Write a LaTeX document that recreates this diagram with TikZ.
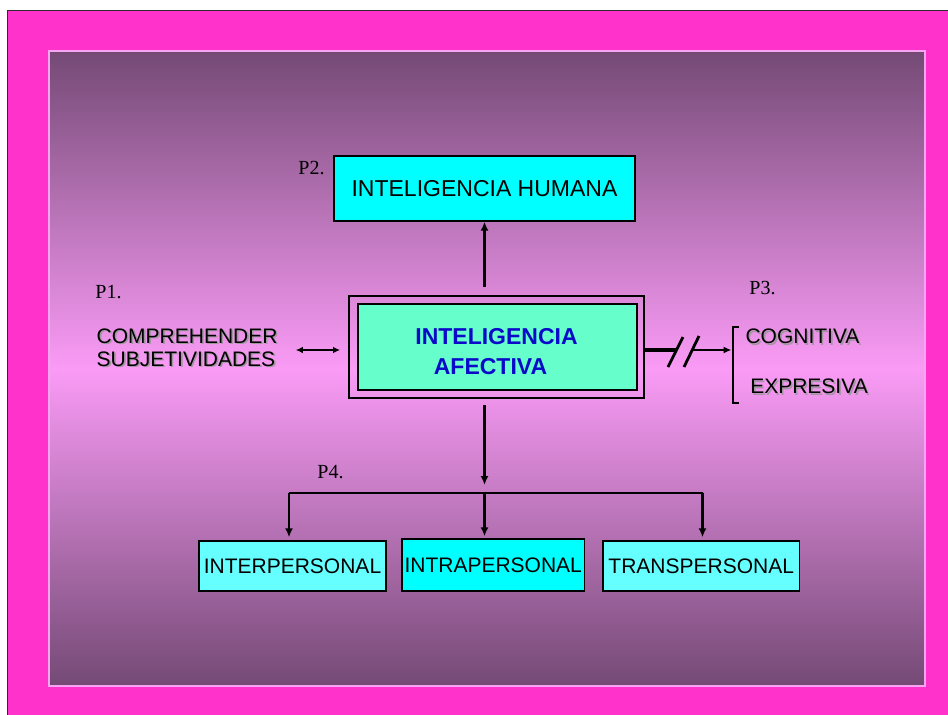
\documentclass[tikz,border=0pt]{standalone}
\usepackage{fontspec}
\setmainfont{Liberation Serif}
\newfontfamily\arialf{Liberation Sans}
\usetikzlibrary{arrows.meta}
\definecolor{outerpink}{RGB}{255,51,204}
\definecolor{darkedge}{RGB}{50,40,50}
\definecolor{bgtop}{RGB}{116,74,117}
\definecolor{bgmid}{RGB}{250,155,246}
\definecolor{innerborder}{RGB}{245,165,242}
\definecolor{cyanfull}{RGB}{0,255,255}
\definecolor{cyanlight}{RGB}{102,255,255}
\definecolor{aquabox}{RGB}{102,255,204}
\definecolor{bluetxt}{RGB}{10,10,200}
\definecolor{shadowgray}{RGB}{160,150,160}
\newcommand{\shtext}[1]{\makebox[0pt][l]{\hspace{1.6pt}\raisebox{-1.6pt}{\textcolor{shadowgray}{#1}}}#1}
\begin{document}
\begin{tikzpicture}[x=1pt,y=-1pt,
  boxtxt/.style={font=\arialf\fontsize{21}{23}\selectfont},
  plabel/.style={font=\fontsize{20}{22}\selectfont, inner sep=0pt},
  cbox/.style={draw=black, line width=1.4pt, inner sep=0pt, boxtxt},
  arr/.style={line width=2.3pt, -{Latex[length=9pt,width=8pt]}},
  dblarr/.style={line width=1.6pt, {Latex[length=7pt,width=6.5pt]}-{Latex[length=7pt,width=6.5pt]}},
  thinarr/.style={line width=1.6pt, -{Latex[length=8pt,width=7pt]}}
]
\useasboundingbox (0,0) rectangle (948,715);
\fill[white] (0,0) rectangle (948,715);
\fill[outerpink] (7,10) rectangle (948,715);
\draw[darkedge, line width=1pt] (7,715) -- (7,10) -- (948,10);
\shade[top color=bgtop, bottom color=bgtop, middle color=bgmid] (49,51) rectangle (925,686);
\draw[innerborder, line width=1.5pt] (49,51) rectangle (925,686);

% labels
\node[plabel] (p1) at (108.5,292) {P1.};
\node[plabel] (p2) at (311.5,168) {P2.};
\node[plabel] (p3) at (762.5,288) {P3.};
\node[plabel] (p4) at (330.5,472) {P4.};

% top box
\node[cbox, fill=cyanfull, minimum width=301pt, minimum height=65pt,
      font=\arialf\fontsize{23}{26}\selectfont] (human) at (484.5,188.5) {INTELIGENCIA HUMANA};

% central box
\node[draw=black, line width=1.6pt, minimum width=295pt, minimum height=102pt, inner sep=0pt] (afo) at (496.5,347) {};
\node[draw=black, line width=2.3pt, fill=aquabox, minimum width=279pt, minimum height=86pt, inner sep=0pt] (afi) at (497.5,347) {};
\node[inner sep=0pt, align=center, text=bluetxt, font=\arialf\bfseries\fontsize{23}{30}\selectfont] (aft) at (496.5,352) {INTELIGENCIA\\AFECTIVA\hspace*{12pt}};

% left text
\node[boxtxt, anchor=west, align=left, inner sep=0pt] (comp) at (96.5,348.2) {\shtext{COMPREHENDER}\\\shtext{SUBJETIVIDADES}};

% right texts
\node[boxtxt, inner sep=0pt] (cogn) at (802.5,337) {\shtext{COGNITIVA}};
\node[boxtxt, inner sep=0pt] (expr) at (809,387) {\shtext{EXPRESIVA}};

% bottom boxes
\node[cbox, fill=cyanlight, minimum width=187pt, minimum height=50pt] (inter) at (292.5,566) {INTERPERSONAL};
\node[cbox, fill=cyanfull, minimum width=182.5pt, minimum height=52pt] (intra) at (493.2,565) {INTRAPERSONAL};
\node[cbox, fill=cyanlight, minimum width=196.5pt, minimum height=50pt] (trans) at (701.2,566) {TRANSPERSONAL};

% coordinates
\coordinate (midline) at (0,350);
\coordinate (upstart) at (484.5,287);
\coordinate (dstart) at (484.5,405);
\coordinate (dend) at (484.5,485);
\coordinate (hl) at (289,493);
\coordinate (hm) at (484.5,493);
\coordinate (hr) at (702.5,493);
\coordinate (thickend) at (677,350);
\coordinate (thinstart) at (692,350);
\coordinate (brk) at (733,350);

% connectors
\draw[arr] (upstart) -- (human.south -| upstart);
\draw[dblarr, shorten <=18pt, shorten >=8pt] (comp.east |- midline) -- (afo.west |- midline);
\draw[line width=3.6pt] (afo.east |- midline) -- (thickend);
\draw[line width=2.8pt] (668,367) -- (683,337);
\draw[line width=2.8pt] (684,367) -- (699,336);
\draw[thinarr, shorten >=1.5pt] (thinstart) -- (brk);
\draw[line width=1.8pt] (739,327) -| (733,403) -- (739,403);

\draw[arr] (dstart) -- (dend);
\draw[line width=2.2pt] (hl) -- (hr);
\draw[arr, shorten >=3pt] (hl) -- (inter.north -| hl);
\draw[arr, shorten >=2pt] (hm) -- (intra.north -| hm);
\draw[arr, shorten >=3pt] (hr) -- (trans.north -| hr);
\end{tikzpicture}
\end{document}
